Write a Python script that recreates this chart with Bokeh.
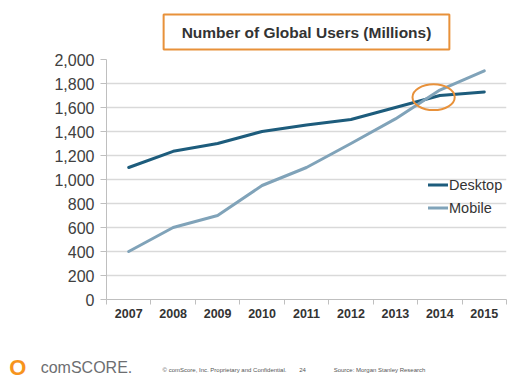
from bokeh.plotting import figure
from bokeh.models import Range1d, FixedTicker, LinearAxis
from bokeh.embed import file_html
from bokeh.resources import INLINE

# ---- data ----
years = [2007, 2008, 2009, 2010, 2011, 2012, 2013, 2014, 2015]
desktop = [1100, 1235, 1300, 1400, 1455, 1500, 1600, 1700, 1730]
mobile = [400, 600, 700, 950, 1100, 1300, 1505, 1745, 1905]
series_names = ["Desktop", "Mobile"]
y_ticks = [0, 200, 400, 600, 800, 1000, 1200, 1400, 1600, 1800, 2000]
y_tick_labels = ["0", "200", "400", "600", "800", "1,000", "1,200", "1,400", "1,600", "1,800", "2,000"]
x_tick_labels = ["2007", "2008", "2009", "2010", "2011", "2012", "2013", "2014", "2015"]
title_text = "Number of Global Users (Millions)"
crossover_year = 2013.86
crossover_value = 1686
footer_logo = "O"
footer_brand = "comSCORE."
footer_small = ["\u00a9 comScore, Inc. Proprietary and Confidential.", "24",
                "Source: Morgan Stanley Research"]

# ---- styling ----
FONT = "Liberation Sans"
DESK_C = "#1d5c7c"
MOB_C = "#80a3b9"
ORANGE = "#e8913a"
GRID_C = "#d9d9d9"
AXIS_C = "#bfbfbf"
TEXT_C = "#333333"
NBSP = "\u00a0"

W, H = 529, 388
LEFT, RIGHT, TOP, BOTTOM = 106, 23, 59, 89

x0, x1 = years[0] - 0.5, years[-1] + 0.5
y0, y1 = y_ticks[0], y_ticks[-1]

p = figure(width=W, height=H, output_backend="svg", toolbar_location=None,
           x_range=Range1d(x0, x1), y_range=Range1d(y0, y1),
           min_border_left=LEFT, min_border_right=RIGHT,
           min_border_top=TOP, min_border_bottom=BOTTOM)
p.background_fill_color = "white"
p.border_fill_color = "white"
p.outline_line_color = None

# title box
p.title.text = title_text
p.title.align = "center"
p.title.text_font = FONT
p.title.text_font_size = "15.5px"
p.title.text_font_style = "bold"
p.title.text_color = TEXT_C
p.title.background_fill_color = "white"
p.title.border_line_color = ORANGE
p.title.border_line_width = 2
p.title.padding = (18, 9)
p.title.standoff = 20

# grid
p.xgrid.grid_line_color = None
p.ygrid.grid_line_color = GRID_C
p.ygrid.grid_line_width = 1.5

# y axis
p.yaxis.ticker = FixedTicker(ticks=y_ticks)
p.yaxis.major_label_overrides = {t: l for t, l in zip(y_ticks, y_tick_labels)}
p.yaxis.axis_line_color = AXIS_C
p.yaxis.major_tick_line_color = AXIS_C
p.yaxis.major_tick_out = 6
p.yaxis.major_tick_in = 0
p.yaxis.minor_tick_line_color = None
p.yaxis.major_label_text_font = FONT
p.yaxis.major_label_text_font_size = "16px"
p.yaxis.major_label_text_color = "#404040"
p.yaxis.major_label_standoff = 6

# x axis
boundaries = [y - 0.5 for y in years] + [years[-1] + 0.5]
p.xaxis.ticker = FixedTicker(ticks=years, minor_ticks=boundaries)
p.xaxis.major_label_overrides = {t: l for t, l in zip(years, x_tick_labels)}
p.xaxis.axis_line_color = AXIS_C
p.xaxis.major_tick_line_color = None
p.xaxis.major_tick_out = 0
p.xaxis.major_tick_in = 0
p.xaxis.minor_tick_line_color = AXIS_C
p.xaxis.minor_tick_out = 5
p.xaxis.minor_tick_in = 0
p.xaxis.major_label_text_font = FONT
p.xaxis.major_label_text_font_size = "12.5px"
p.xaxis.major_label_text_font_style = "bold"
p.xaxis.major_label_text_color = TEXT_C
p.xaxis.major_label_standoff = 4

# lines
p.line(years, desktop, line_color=DESK_C, line_width=3, line_cap="round",
       line_join="round", legend_label=series_names[0])
p.line(years, mobile, line_color=MOB_C, line_width=3, line_cap="round",
       line_join="round", legend_label=series_names[1])

# highlight ellipse around crossover
p.ellipse(x=[crossover_year], y=[crossover_value], width=0.95, height=215,
          fill_color=None, line_color=ORANGE, line_width=2)

# legend
lg = p.legend[0]
lg.location = (322, 80)
lg.padding = 0
lg.margin = 0
lg.spacing = 0
lg.border_line_color = None
lg.background_fill_alpha = 0
lg.glyph_width = 20
lg.glyph_height = 23
lg.label_height = 23
lg.label_standoff = 1
lg.label_text_font = FONT
lg.label_text_font_size = "14.5px"
lg.label_text_color = TEXT_C

# footer: extra axes on a pixel-like range (value == horizontal pixel position)
p.extra_x_ranges = {"px": Range1d(LEFT, W - RIGHT)}


def footer_axis(ticks, labels, size, color, standoff, style="normal"):
    ax = LinearAxis(x_range_name="px",
                    ticker=FixedTicker(ticks=ticks, minor_ticks=[]),
                    major_label_overrides={t: l for t, l in zip(ticks, labels)})
    ax.axis_line_color = None
    ax.major_tick_line_color = None
    ax.minor_tick_line_color = None
    ax.major_tick_out = 0
    ax.major_tick_in = 0
    ax.minor_tick_out = 0
    ax.minor_tick_in = 0
    ax.major_label_text_font = FONT
    ax.major_label_text_font_size = size
    ax.major_label_text_font_style = style
    ax.major_label_text_color = color
    ax.major_label_standoff = standoff
    p.add_layout(ax, "below")


# labels centred on the frame's left edge; trailing no-break spaces shift them left
footer_axis([224, 302, 379], footer_small, "6px", "#555555", 46)
footer_axis([LEFT], [footer_brand + NBSP * 9], "16px", "#6d6e71", -17)
footer_axis([LEFT], [footer_logo + NBSP * 29], "22px", "#f7941d", -24, style="bold")

open("out.html", "w").write(file_html(p, INLINE))
